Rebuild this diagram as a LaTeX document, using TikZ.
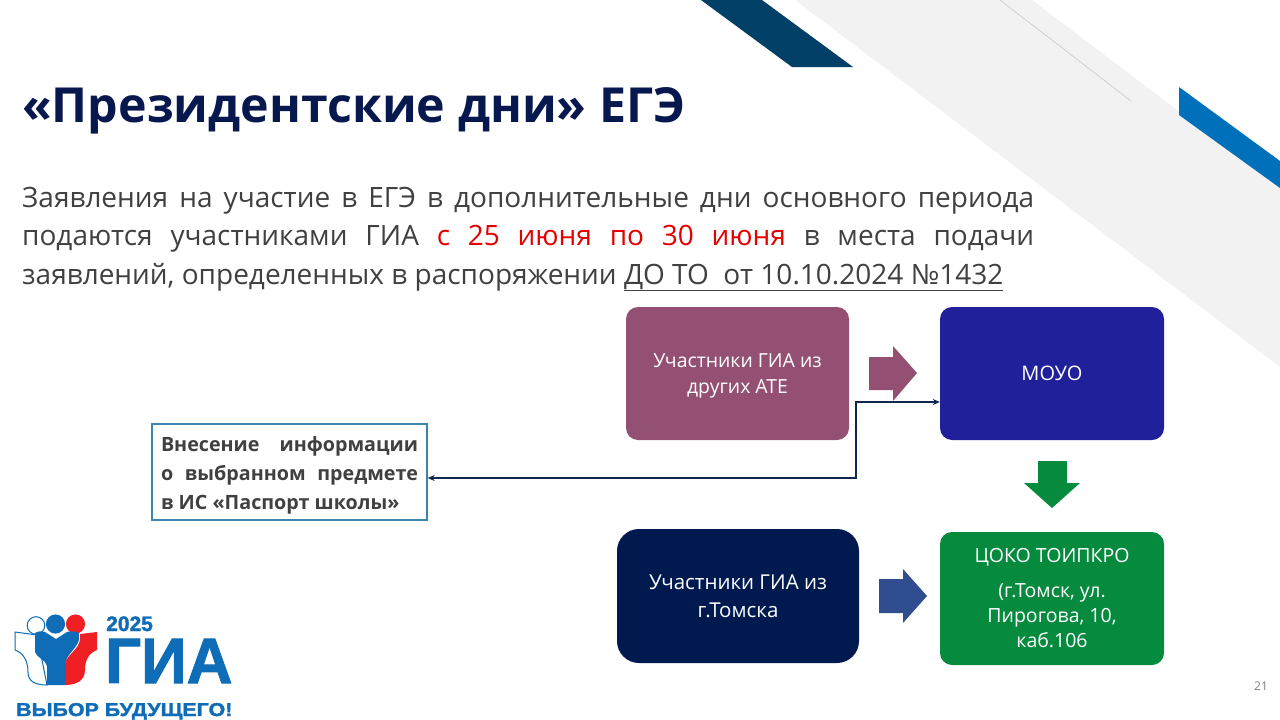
\documentclass[tikz,border=0pt]{standalone}
\usepackage{fontspec}
\setmainfont{Open Sans}
\newfontfamily\logofont{Liberation Sans}
\newfontfamily\logoheavy[FakeBold=1.6]{Liberation Sans}
\usetikzlibrary{arrows.meta}
\definecolor{navytitle}{HTML}{07184F}
\definecolor{bodytext}{HTML}{404040}
\definecolor{bandgray}{HTML}{F2F2F2}
\definecolor{banddark}{HTML}{003F66}
\definecolor{bandblue}{HTML}{0070BA}
\definecolor{plum}{HTML}{935072}
\definecolor{indigo}{HTML}{20209A}
\definecolor{deepnavy}{HTML}{001A50}
\definecolor{gogreen}{HTML}{068A3E}
\definecolor{arrowblue}{HTML}{2F4D8F}
\definecolor{framecol}{HTML}{3A86AD}
\definecolor{logoblue}{HTML}{0F6CB6}
\definecolor{logored}{HTML}{EE2024}
\definecolor{linkcol}{HTML}{10284F}
\newcommand{\ulined}[1]{\underline{#1}}
\newcommand{\lowered}[2]{\raisebox{-#1}[0pt][0pt]{#2}}
\tikzset{
  flowbox/.style={rounded corners=12pt,inner sep=0pt,text=white,align=center,font=\fontsize{19.4}{26}\selectfont},
  linkline/.style={draw=linkcol,line width=1.2pt,{Stealth[length=7pt,width=6pt]}-{Stealth[length=7pt,width=6pt]}}
}
\begin{document}
\begin{tikzpicture}[x=1pt,y=-1pt]
\useasboundingbox (0,0) rectangle (1280,720);
% decorative bands
\fill[bandgray] (795,0) -- (1032,0) -- (1280,188) -- (1280,367) -- cycle;
\draw[color=black!20,line width=.7pt] (1000,0) -- (1131,101);
\fill[banddark] (701,0) -- (762,0) -- (853,67) -- (792,67) -- cycle;
\fill[bandblue] (1179,87) -- (1280,161) -- (1280,188) -- (1179,115) -- cycle;
% title and text
\node[anchor=base west,inner sep=0pt,text=navytitle,font=\fontsize{48.3}{50}\selectfont\bfseries] (title) at (22,122) {«Президентские дни» ЕГЭ};
\node[anchor=base west,inner sep=0pt,text=bodytext,font=\fontsize{28}{30}\selectfont] (lineone) at (22,207) {\makebox[1012pt][s]{Заявления на участие в ЕГЭ в дополнительные дни основного периода}};
\node[anchor=base west,inner sep=0pt,text=bodytext,font=\fontsize{28}{30}\selectfont] (linetwo) at (22,245) {\makebox[1012pt][s]{подаются участниками ГИА \textcolor{red!90!black}{с 25 июня по 30 июня} в места подачи}};
\node[anchor=base west,inner sep=0pt,text=bodytext,font=\fontsize{28}{30}\selectfont] (linethree) at (22,284) {заявлений, определенных в распоряжении \ulined{ДО ТО\ \ от 10.10.2024 №1432}};
% flow boxes
\node[flowbox,fill=plum,minimum width=223pt,minimum height=133pt] (ate) at (737.5,373.5) {\lowered{6.5pt}{Участники ГИА из}\\ \lowered{6.5pt}{других АТЕ}};
\node[flowbox,fill=indigo,minimum width=224pt,minimum height=133pt,font=\fontsize{20}{26}\selectfont] (moyo) at (1052,373.5) {МОУО};
\node[flowbox,fill=deepnavy,rounded corners=22pt,minimum width=242pt,minimum height=134pt,font=\fontsize{20.5}{28}\selectfont] (tomsk) at (738,596) {Участники ГИА из\\ г.Томска};
\node[flowbox,fill=gogreen,minimum width=224pt,minimum height=133pt,font=\fontsize{19.5}{25}\selectfont] (coko) at (1052,598.5) {ЦОКО ТОИПКРО\\[10pt](г.Томск, ул.\\ Пирогова, 10,\\ каб.106};
\node[draw=framecol,line width=1.4pt,fill=white,minimum width=275pt,minimum height=96pt,inner sep=0pt,text=bodytext,align=left,font=\fontsize{19.7}{29}\selectfont\bfseries] (info) at (289.5,472) {%
\lowered{8.3pt}{\makebox[257pt][s]{Внесение информации}}\\
\lowered{8.3pt}{\makebox[257pt][s]{о выбранном предмете}}\\
\lowered{8.3pt}{\makebox[257pt][l]{в ИС «Паспорт школы»}}};
% block arrows
\fill[plum] (869,357) -- (893,357) -- (893,346) -- (917,373) -- (893,401) -- (893,390) -- (869,390) -- cycle;
\fill[gogreen] (1038,461) -- (1067,461) -- (1067,483) -- (1080,483) -- (1052,508) -- (1024,483) -- (1038,483) -- cycle;
\fill[arrowblue] (879,579) -- (903,579) -- (903,569) -- (927,596) -- (903,623) -- (903,613) -- (879,613) -- cycle;
% connector
\coordinate (turn) at (856,402);
\draw[linkline] ([yshift=-6pt]info.east) -| (turn) -- (turn -| moyo.west);
% logo
\draw[logoblue,fill=white,line width=1pt] (36,625.5) circle (8.8);
\fill[logoblue] (55.5,624) circle (9.6);
\fill[logored] (75.5,624) circle (9.6);
\draw[logoblue,fill=white,line width=1pt] (15,632) -- (37,635) -- (47,685) .. controls (36,685) and (28,682) .. (28,672) .. controls (28,662) and (24,653) .. (15,650) -- cycle;
\fill[logored] (97,632) -- (97,650) .. controls (89,653) and (85,660) .. (85,670) .. controls (85,681) and (76,685) .. (65,685) -- (65,663) .. controls (68,654) and (78,650) .. (80,640) -- (80,634) -- cycle;
\fill[logoblue] (35,633) .. controls (38,631) and (42,631) .. (45,632) -- (56,639) -- (67,632) .. controls (71,631) and (75,631) .. (79,633) -- (79,640) .. controls (76,650) and (66,654) .. (65,665) -- (65,685) -- (47,685) -- (47,666) .. controls (46,660) and (37,658) .. (35,652) -- cycle;
\node[anchor=base west,inner sep=0pt,text=logoblue,font=\logoheavy\fontsize{21}{22}\selectfont\bfseries] (yr) at (106,631) {2025};
\node[anchor=base west,inner sep=0pt,text=logoblue,font=\logoheavy\fontsize{64}{64}\selectfont\bfseries] (gia) at (105,683) {\scalebox{.99}[1]{ГИА}};
\node[anchor=base west,inner sep=0pt,text=logoblue,font=\logoheavy\fontsize{18.6}{20}\selectfont\bfseries] (slogan) at (16,716) {\scalebox{1.15}[1]{ВЫБОР БУДУЩЕГО!}};
% page number
\node[anchor=center,inner sep=0pt,text=black!50,font=\fontsize{12}{14}\selectfont] (pg) at (1261,686) {21};
\end{tikzpicture}
\end{document}
